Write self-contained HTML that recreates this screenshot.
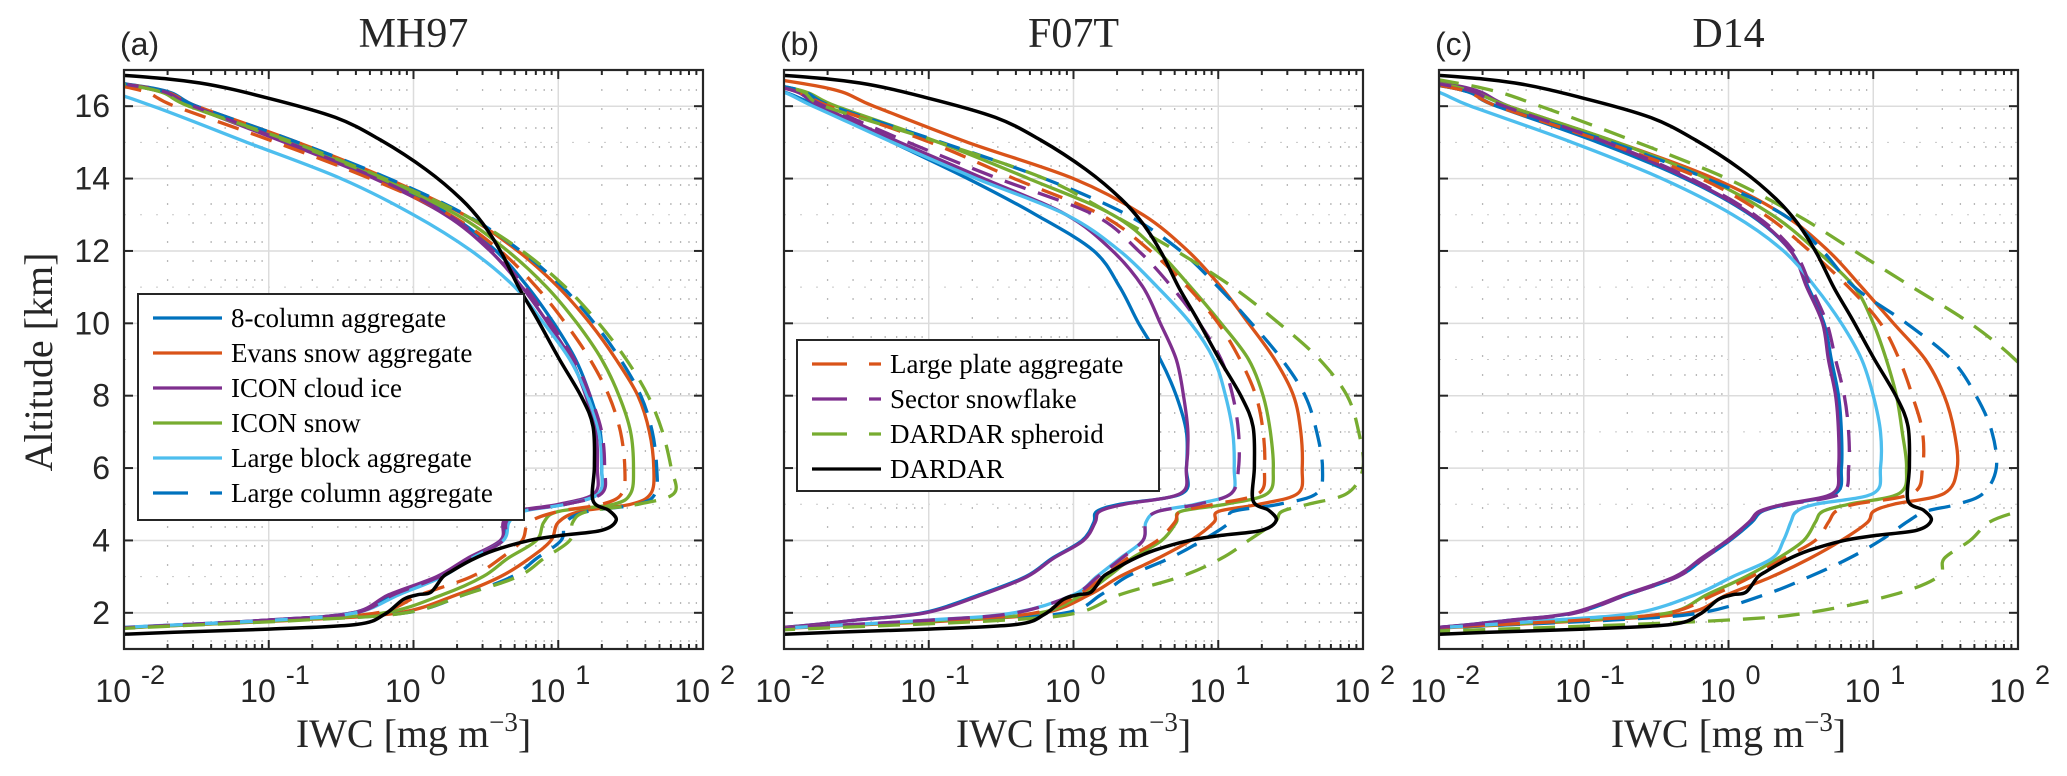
<!DOCTYPE html>
<html><head><meta charset="utf-8">
<style>
html,body{margin:0;padding:0;background:#fff;}
svg{display:block;}
.tick{font-family:"Liberation Sans","DejaVu Sans",sans-serif;font-size:32px;fill:#262626;}
.sup{font-family:"Liberation Sans","DejaVu Sans",sans-serif;font-size:27px;fill:#262626;}
.ser{font-family:"Liberation Serif","DejaVu Serif",serif;fill:#262626;}
.leg{font-family:"Liberation Serif","DejaVu Serif",serif;font-size:27px;fill:#000;}
</style></head>
<body>
<svg id="fig" width="2067" height="776" viewBox="0 0 2067 776" xmlns="http://www.w3.org/2000/svg"></svg>
<script>
// ---- data (log10 IWC [mg m-3]) on common altitude grid (km) ----
const altitudes = [1.4,1.6,1.8,2,2.5,3,3.5,4,4.5,4.8,5,5.3,6,7,8,9,10,11,12,13,14,15,16,16.5,17];
const panelTitles = ["MH97","F07T","D14"];
const panelTags = ["(a)","(b)","(c)"];
const xTickExp = [-2,-1,0,1,2];
const yTicks = [2,4,6,8,10,12,14,16];
const seriesNames = ["8-column aggregate","Evans snow aggregate","ICON cloud ice","ICON snow","Large block aggregate","Large column aggregate","Large plate aggregate","Sector snowflake","DARDAR spheroid"];

const col8A   = [-2.8,-1.95,-1.0,-0.42,-0.15,0.18,0.4,0.62,0.64,0.72,1.05,1.28,1.3,1.29,1.22,1.12,0.97,0.79,0.57,0.25,-0.24,-0.86,-1.5,-1.8,-2.8];
const evansA  = [-2.8,-1.9,-0.8,-0.1,0.3,0.6,0.8,0.95,1.0,1.15,1.5,1.64,1.66,1.63,1.55,1.4,1.22,1.0,0.72,0.35,-0.18,-0.8,-1.5,-1.82,-2.8];
const iceA    = [-2.8,-1.95,-1.0,-0.42,-0.17,0.16,0.37,0.6,0.62,0.69,1.0,1.25,1.27,1.26,1.19,1.09,0.93,0.75,0.53,0.22,-0.27,-0.89,-1.54,-1.85,-2.8];
const snowA   = [-2.8,-1.9,-0.85,-0.2,0.2,0.48,0.65,0.85,0.9,1.0,1.38,1.5,1.52,1.5,1.42,1.3,1.13,0.92,0.65,0.3,-0.22,-0.85,-1.55,-1.85,-2.8];
const blockA  = [-2.8,-2.0,-0.95,-0.4,-0.1,0.2,0.4,0.62,0.66,0.75,1.05,1.28,1.3,1.28,1.2,1.08,0.9,0.7,0.4,0.0,-0.5,-1.15,-1.8,-2.2,-2.8];
const columnA = [-2.8,-1.9,-0.8,-0.05,0.35,0.68,0.85,1.02,1.05,1.2,1.55,1.67,1.68,1.65,1.57,1.43,1.25,1.03,0.74,0.36,-0.17,-0.8,-1.5,-1.82,-2.8];
const plateA  = [-2.8,-1.9,-0.9,-0.25,0.05,0.4,0.6,0.75,0.8,1.0,1.3,1.44,1.46,1.43,1.35,1.22,1.05,0.85,0.6,0.25,-0.3,-0.95,-1.65,-1.95,-2.8];
const sectorA = [-2.8,-1.95,-1.0,-0.4,-0.14,0.18,0.4,0.62,0.64,0.72,1.05,1.3,1.32,1.3,1.22,1.11,0.95,0.77,0.55,0.24,-0.25,-0.87,-1.52,-1.83,-2.8];
const sphA    = [-2.8,-1.85,-0.75,-0.05,0.35,0.72,0.9,1.08,1.1,1.2,1.55,1.8,1.78,1.72,1.62,1.47,1.28,1.05,0.75,0.35,-0.2,-0.83,-1.55,-1.85,-2.8];

const col8B   = [-2.8,-2.0,-1.5,-1.04,-0.65,-0.33,-0.15,0.06,0.14,0.16,0.32,0.75,0.78,0.78,0.71,0.6,0.45,0.32,0.14,-0.26,-0.73,-1.25,-1.77,-2.1,-2.8];
const evansB  = [-2.8,-1.85,-0.75,-0.2,0.11,0.32,0.58,0.81,0.97,1.0,1.28,1.55,1.58,1.57,1.52,1.39,1.21,1.02,0.79,0.48,0.0,-0.73,-1.38,-1.7,-2.5];
const iceB    = [-2.8,-2.0,-1.5,-1.02,-0.63,-0.32,-0.14,0.07,0.15,0.18,0.35,0.74,0.78,0.79,0.76,0.71,0.6,0.48,0.27,-0.05,-0.62,-1.2,-1.75,-2.0,-2.8];
const snowB   = [-2.8,-1.9,-0.85,-0.23,0.06,0.24,0.40,0.61,0.71,0.74,1.05,1.34,1.38,1.36,1.31,1.21,1.02,0.81,0.58,0.27,-0.31,-0.93,-1.64,-1.95,-2.8];
const blockB  = [-2.8,-1.9,-0.99,-0.41,0.0,0.16,0.32,0.48,0.5,0.58,0.84,1.09,1.11,1.10,1.05,0.97,0.81,0.58,0.32,-0.05,-0.67,-1.25,-1.8,-2.1,-2.8];
const columnB = [-2.8,-1.85,-0.7,-0.05,0.19,0.37,0.66,0.89,1.08,1.1,1.42,1.68,1.72,1.68,1.6,1.44,1.23,1.0,0.74,0.37,-0.2,-0.91,-1.67,-1.95,-2.8];
const plateB  = [-2.8,-1.9,-0.86,-0.26,0.03,0.21,0.37,0.58,0.7,0.74,0.97,1.28,1.32,1.31,1.26,1.15,1.0,0.79,0.53,0.19,-0.41,-0.99,-1.69,-2.0,-2.8];
const sectorB = [-2.8,-1.9,-0.98,-0.4,0.0,0.17,0.33,0.48,0.5,0.58,0.86,1.09,1.14,1.14,1.10,1.02,0.87,0.68,0.45,0.14,-0.52,-1.14,-1.72,-2.0,-2.8];
const sphB    = [-2.8,-1.6,-0.46,0.03,0.32,0.74,1.02,1.21,1.39,1.44,1.62,1.89,2.0,1.97,1.89,1.7,1.42,1.1,0.71,0.27,-0.2,-0.93,-1.72,-1.95,-2.8];

const col8C   = [-2.8,-2.0,-1.5,-1.06,-0.7,-0.35,-0.17,0.01,0.16,0.23,0.4,0.74,0.78,0.78,0.76,0.71,0.66,0.55,0.43,0.15,-0.3,-0.9,-1.6,-1.9,-2.8];
const evansC  = [-2.8,-1.9,-0.9,-0.28,-0.01,0.3,0.56,0.78,0.96,1.0,1.14,1.49,1.58,1.56,1.49,1.36,1.14,0.92,0.69,0.38,-0.1,-0.77,-1.52,-1.85,-2.8];
const iceC    = [-2.8,-2.0,-1.5,-1.08,-0.72,-0.37,-0.19,-0.01,0.14,0.21,0.38,0.72,0.76,0.76,0.74,0.69,0.65,0.54,0.43,0.16,-0.28,-0.85,-1.52,-1.8,-2.5];
const snowC   = [-2.8,-1.95,-1.0,-0.41,-0.15,0.12,0.34,0.52,0.6,0.65,0.83,1.18,1.23,1.2,1.16,1.09,1.0,0.87,0.61,0.3,-0.15,-0.77,-1.52,-1.85,-2.5];
const blockC  = [-2.8,-1.95,-1.2,-0.63,-0.23,0.03,0.3,0.38,0.43,0.47,0.6,1.0,1.05,1.05,1.0,0.92,0.78,0.6,0.38,0.03,-0.46,-1.08,-1.78,-2.1,-2.8];
const columnC = [-2.8,-1.9,-0.8,-0.19,0.25,0.56,0.83,1.05,1.23,1.36,1.58,1.76,1.85,1.82,1.71,1.54,1.23,0.87,0.65,0.38,-0.15,-0.81,-1.6,-1.9,-2.8];
const plateC  = [-2.8,-1.95,-1.0,-0.41,-0.1,0.16,0.38,0.6,0.69,0.74,0.87,1.27,1.34,1.34,1.27,1.18,1.05,0.83,0.56,0.25,-0.19,-0.85,-1.6,-1.9,-2.8];
const sectorC = [-2.8,-2.0,-1.45,-1.05,-0.7,-0.35,-0.17,0.0,0.15,0.22,0.42,0.78,0.83,0.83,0.8,0.74,0.68,0.57,0.45,0.18,-0.26,-0.84,-1.55,-1.85,-2.6];
const sphC    = [-2.8,-1.2,0.0,0.55,1.14,1.45,1.49,1.67,1.8,2.0,2.2,2.4,2.4,2.4,2.2,1.98,1.67,1.27,0.87,0.47,-0.01,-0.63,-1.3,-1.7,-2.4];

const dardarAlt = [1.2,1.41,1.55,1.68,1.96,2.37,2.5,2.57,2.98,3.12,3.46,3.73,4.0,4.14,4.28,4.55,4.83,5.1,6.05,7.15,7.97,9.06,10.15,10.97,11.93,12.75,13.43,14.25,15.07,15.69,16.23,16.64,16.85,17.1];
const dardarLog = [-3,-2,-1.0,-0.39,-0.20,-0.07,0.03,0.12,0.20,0.25,0.40,0.56,0.80,1.02,1.30,1.40,1.35,1.24,1.25,1.24,1.16,1.0,0.85,0.73,0.61,0.48,0.33,0.086,-0.23,-0.54,-1.01,-1.475,-2,-3];

const panelData = [
  [col8A,evansA,iceA,snowA,blockA,columnA,plateA,sectorA,sphA],
  [col8B,evansB,iceB,snowB,blockB,columnB,plateB,sectorB,sphB],
  [col8C,evansC,iceC,snowC,blockC,columnC,plateC,sectorC,sphC]
];
const seriesColors = ["#0072BD","#D95319","#7E2F8E","#77AC30","#4DBEEE","#0072BD","#D95319","#7E2F8E","#77AC30"];
const seriesDashed = [false,false,false,false,false,true,true,true,true];
const seriesKeys = ["8-column","evans","icon-cloud-ice","icon-snow","large-block","large-column","large-plate","sector-snowflake","dardar-spheroid"];

// ---- layout ----
const NS="http://www.w3.org/2000/svg";
const svg=document.getElementById('fig');
const panelLeft=[124,784,1439], W=579, TOP=70, BOT=649;
const xMin=-2,xMax=2,yMin=1,yMax=17;
function mk(tag,attrs,parent){const e=document.createElementNS(NS,tag);for(const k in attrs)e.setAttribute(k,attrs[k]);(parent||svg).appendChild(e);return e;}
function sx(p,lv){return panelLeft[p]+(lv-xMin)/(xMax-xMin)*W;}
function sy(a){return BOT-(a-yMin)/(yMax-yMin)*(BOT-TOP);}
function smoothPath(pts){
  let d="M"+pts[0][0].toFixed(1)+","+pts[0][1].toFixed(1);
  for(let i=0;i<pts.length-1;i++){
    const p0=pts[i-1]||pts[i],p1=pts[i],p2=pts[i+1],p3=pts[i+2]||p2;
    const c1=[p1[0]+(p2[0]-p0[0])/6,p1[1]+(p2[1]-p0[1])/6];
    const c2=[p2[0]-(p3[0]-p1[0])/6,p2[1]-(p3[1]-p1[1])/6];
    d+=" C"+c1[0].toFixed(1)+","+c1[1].toFixed(1)+" "+c2[0].toFixed(1)+","+c2[1].toFixed(1)+" "+p2[0].toFixed(1)+","+p2[1].toFixed(1);
  }
  return d;
}

for(let p=0;p<3;p++){
  const L=panelLeft[p],R=L+W;
  const g=mk('g',{});
  
  
  const defs=mk('defs',{},g);
  const cp=mk('clipPath',{id:'clip'+p},defs);
  mk('rect',{x:L,y:TOP,width:W,height:BOT-TOP},cp);
  const grid=mk('g',{},g);
  
  
  for(let e=xMin;e<xMax;e++){
    for(let m=2;m<=9;m++){
      const x=sx(p,e+Math.log10(m));
      mk('line',{x1:x,x2:x,y1:TOP,y2:BOT,stroke:'#b8b8b8','stroke-width':1.3,'stroke-dasharray':'2,17'},grid);
    }
  }
  for(let a=3;a<=15;a+=2){
    mk('line',{x1:L,x2:R,y1:sy(a),y2:sy(a),stroke:'#c8c8c8','stroke-width':1,'stroke-dasharray':'2,14'},grid);
  }
  for(const e of xTickExp){const x=sx(p,e);mk('line',{x1:x,x2:x,y1:TOP,y2:BOT,stroke:'#dcdcdc','stroke-width':1.5},grid);}
  for(const a of yTicks){mk('line',{x1:L,x2:R,y1:sy(a),y2:sy(a),stroke:'#dcdcdc','stroke-width':1.5},grid);}
  const sg=mk('g',{'clip-path':'url(#clip'+p+')'},g);
  panelData[p].forEach((vals,i)=>{
    const pts=altitudes.map((a,k)=>[sx(p,vals[k]),sy(a)]);
    const path=mk('path',{d:smoothPath(pts),fill:'none',stroke:seriesColors[i],'stroke-width':3.3,'stroke-linejoin':'round'},sg);
    if(seriesDashed[i]) path.setAttribute('stroke-dasharray','22,13');
    
    
  });
  const dpts=dardarAlt.map((a,k)=>[sx(p,dardarLog[k]),sy(a)]);
  const dp=mk('path',{d:smoothPath(dpts),fill:'none',stroke:'#000','stroke-width':3.5,'stroke-linejoin':'round'},sg);
  
  
  const ax=mk('g',{},g);
  
  
  mk('rect',{x:L,y:TOP,width:W,height:BOT-TOP,fill:'none',stroke:'#262626','stroke-width':2.2},ax);
  for(let e=xMin;e<=xMax;e++){
    for(let m=1;m<=9;m++){
      const lv=e+Math.log10(m); if(lv>xMax)break;
      const x=sx(p,lv),len=m===1?9:5;
      mk('line',{x1:x,x2:x,y1:BOT,y2:BOT-len,stroke:'#262626','stroke-width':2},ax);
      mk('line',{x1:x,x2:x,y1:TOP,y2:TOP+len,stroke:'#262626','stroke-width':2},ax);
    }
  }
  for(const a of yTicks){
    mk('line',{x1:L,x2:L+9,y1:sy(a),y2:sy(a),stroke:'#262626','stroke-width':2},ax);
    mk('line',{x1:R,x2:R-9,y1:sy(a),y2:sy(a),stroke:'#262626','stroke-width':2},ax);
  }
  for(const e of xTickExp){
    const x=sx(p,e);
    const t=mk('text',{x:x+7,y:702,'text-anchor':'end',class:'tick'},g);
    t.textContent='10';
    
    
    const s=mk('text',{x:x+17,y:684,'text-anchor':'start',class:'sup'},g);
    s.textContent=String(e);
    
    
  }
  if(p===0){
    for(const a of yTicks){
      const t=mk('text',{x:L-14,y:sy(a)+11,'text-anchor':'end',class:'tick'},g);
      t.textContent=String(a);
      
      
    }
  }
  const xl=mk('text',{x:L+W/2,y:747,'text-anchor':'middle',class:'ser','font-size':40},g);
  xl.innerHTML='IWC [mg m<tspan dy="-16" font-size="27">−3</tspan><tspan dy="16">]</tspan>';
  
  
  const tt=mk('text',{x:L+W/2,y:47,'text-anchor':'middle',class:'ser','font-size':42},g);
  tt.textContent=panelTitles[p];
  
  
  const tg=mk('text',{x:L-4,y:55,'text-anchor':'start',class:'tick','font-size':30},g);
  tg.textContent=panelTags[p];
  
  
}
const yt=mk('text',{x:0,y:0,'text-anchor':'middle',class:'ser','font-size':40,transform:'translate(52,362) rotate(-90)'});
yt.textContent='Altitude [km]';



function legend(x,y,w,h,items,name){
  const g=mk('g',{});
  
  
  mk('rect',{x:x,y:y,width:w,height:h,fill:'#fff',stroke:'#262626','stroke-width':2},g);
  items.forEach((it,k)=>{
    const cy=y+24+k*35;
    const ln=mk('line',{x1:x+15,x2:x+84,y1:cy,y2:cy,stroke:it[1],'stroke-width':3.3},g);
    if(it[2]) ln.setAttribute('stroke-dasharray','35,22');
    
    
    const t=mk('text',{x:x+93,y:cy+9,class:'leg'},g);
    t.textContent=it[0];
    
    
  });
}
legend(138,294,386,226,[0,1,2,3,4,5].map(i=>[seriesNames[i],seriesColors[i],seriesDashed[i]]),'legend-a');
legend(797,340,362,151,[[seriesNames[6],seriesColors[6],true],[seriesNames[7],seriesColors[7],true],[seriesNames[8],seriesColors[8],true],["DARDAR","#000",false]],'legend-b');
</script>
</body></html>
